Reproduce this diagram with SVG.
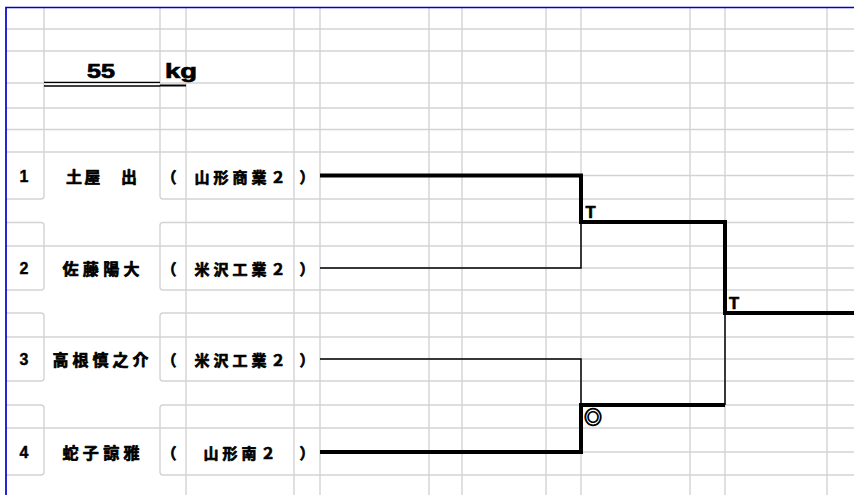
<svg xmlns="http://www.w3.org/2000/svg" width="854" height="495" viewBox="0 0 854 495">
<style>
.g{stroke:#d3d3d3;stroke-width:1.4;fill:none}
.blue{stroke:#0000d0;stroke-width:1.7;fill:none}
.thick{stroke:#000;stroke-width:4;fill:none;stroke-linejoin:miter}
.thin{stroke:#000;stroke-width:1.5;fill:none}
.num{font-family:"Liberation Sans",Arial,sans-serif;font-weight:bold;font-size:16px;fill:#000;stroke:#000;stroke-width:0.4}
.jp{font-family:"Noto Sans CJK JP","Noto Sans CJK SC",sans-serif;font-weight:bold;fill:#000;stroke:#000;stroke-width:0.7;stroke-linejoin:round}
.nm{font-size:16px}
.sc{font-size:15px}
.lbl{font-family:"Liberation Sans",Arial,sans-serif;font-weight:bold;font-size:16.5px;fill:#000;stroke:#000;stroke-width:0.6}
.ttl{font-family:"Liberation Sans",Arial,sans-serif;font-weight:bold;font-size:21px;fill:#000;stroke:#000;stroke-width:0.7}
</style>
<rect width="854" height="495" fill="#fff"/>
<g id="grid">
  <path class="g" d="M6,29H854M6,51H854M6,83H854M6,108H854M6,129.5H854M6,152H854
  M320,175.5H854M320,268H854M320,359H854M320,452H854
  M6,246H854M6,337H854M6,428H854
  M186,199H854M186,290H854M186,381H854M186,475H854
  M186,222.5H854M186,313H854M186,405H854
  M186,7.5V495M294,7.5V495M320,7.5V495M429,7.5V495M462,7.5V495M546,7.5V495M581,7.5V495M690,7.5V495M725,7.5V495M827,7.5V495"/>
  <path class="g" d="M6,199H41Q44,199 44,196V7.5
  M6,222.5H41Q44,222.5 44,225.5V287Q44,290 41,290H6
  M6,313H41Q44,313 44,316V378Q44,381 41,381H6
  M6,405H41Q44,405 44,408V472Q44,475 41,475H6
  M186,199H163Q160,199 160,196V7.5
  M186,222.5H163Q160,222.5 160,225.5V287Q160,290 163,290H186
  M186,313H163Q160,313 160,316V378Q160,381 163,381H186
  M186,405H163Q160,405 160,408V472Q160,475 163,475H186"/>
  <path class="blue" d="M6,495V7.5H854"/>
</g>
<g id="title">
  <text class="ttl" x="87" y="77.5" textLength="28" lengthAdjust="spacingAndGlyphs">55</text>
  <text class="ttl" x="165" y="77.5" textLength="32" lengthAdjust="spacingAndGlyphs">kg</text>
  <path stroke="#000" stroke-width="1.3" fill="none" d="M44,82.3H160M44,86H160"/>
  <path stroke="#000" stroke-width="2" fill="none" d="M160,85.5H186"/>
</g>
<g id="player-1">
  <text class="num" x="24" y="181.5" text-anchor="middle">1</text>
  <text class="jp nm" x="66" y="182.5" textLength="71" lengthAdjust="spacing">土屋　出</text>
  <text class="jp sc" x="161.5" y="182.5">（</text>
  <text class="jp sc" x="194.5" y="182.5" textLength="91" lengthAdjust="spacing">山形商業２</text>
  <text class="jp sc" x="299.5" y="182.5">）</text>
</g>
<g id="player-2">
  <text class="num" x="24" y="274" text-anchor="middle">2</text>
  <text class="jp nm" x="62.5" y="275" textLength="77" lengthAdjust="spacing">佐藤陽大</text>
  <text class="jp sc" x="161.5" y="275">（</text>
  <text class="jp sc" x="194.5" y="275" textLength="91" lengthAdjust="spacing">米沢工業２</text>
  <text class="jp sc" x="299.5" y="275">）</text>
</g>
<g id="player-3">
  <text class="num" x="24" y="365" text-anchor="middle">3</text>
  <text class="jp nm" x="52.5" y="366" textLength="96" lengthAdjust="spacing">高根慎之介</text>
  <text class="jp sc" x="161.5" y="366">（</text>
  <text class="jp sc" x="194.5" y="366" textLength="91" lengthAdjust="spacing">米沢工業２</text>
  <text class="jp sc" x="299.5" y="366">）</text>
</g>
<g id="player-4">
  <text class="num" x="24" y="458" text-anchor="middle">4</text>
  <text class="jp nm" x="62.5" y="459" textLength="77" lengthAdjust="spacing">蛇子諒雅</text>
  <text class="jp sc" x="161.5" y="459">（</text>
  <text class="jp sc" x="203.5" y="459" textLength="72" lengthAdjust="spacing">山形南２</text>
  <text class="jp sc" x="299.5" y="459">）</text>
</g>
<g id="connectors">
  <path class="thin" d="M320,268H581V222M320,359H581V405M725,313V405"/>
  <path class="thick" d="M320,175.5H581V222H725V313H854"/>
  <path class="thick" d="M320,452H581V405H725"/>
</g>
<g id="results">
  <text class="lbl" x="585.5" y="218">T</text>
  <text class="lbl" x="729" y="309">T</text>
  <text class="jp" x="584" y="423.5" style="font-size:18px;stroke-width:0.9">◎</text>
</g>
</svg>
